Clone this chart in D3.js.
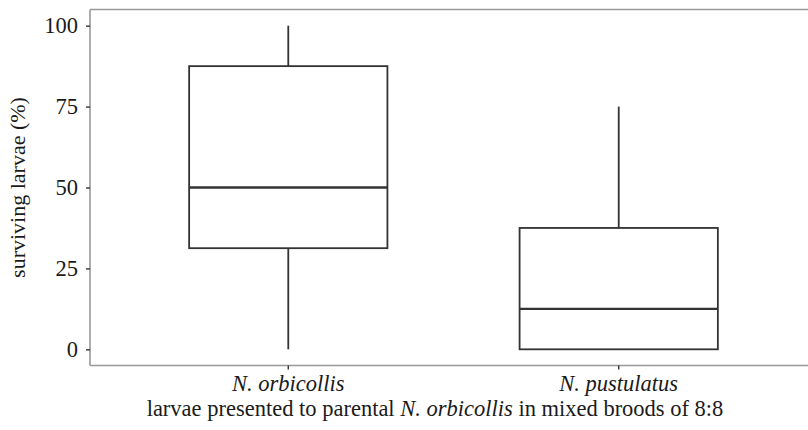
<!DOCTYPE html>
<html><head><meta charset="utf-8">
<script src="https://cdn.jsdelivr.net/npm/d3@7"></script>
<style>body{margin:0;background:#fff}svg{display:block}text{font-family:"Liberation Serif","DejaVu Serif",serif;fill:#1a1a1a}</style>
</head><body><svg id="c" width="808" height="430"></svg>
<script>
const categories = ["N. orbicollis", "N. pustulatus"];
const mins    = [0, 0];
const q1s     = [31.25, 0];
const medians = [50, 12.5];
const q3s     = [87.5, 37.5];
const maxs    = [100, 75];
const yTicks  = [0, 25, 50, 75, 100];

const svg = d3.select("#c");
const L = 90, R = 817, T = 9.5, B = 365.5;
const x = d3.scaleBand().domain(categories).range([L, R]).paddingInner(0.4).paddingOuter(0.3);
const y = d3.scaleLinear().domain([-5, 105]).range([B, T]);

const data = categories.map((c, i) => ({c, min: mins[i], q1: q1s[i], med: medians[i], q3: q3s[i], max: maxs[i]}));
const stroke = "#333";
const g = svg.append("g");
data.forEach(d => {
  const x0 = x(d.c), bw = x.bandwidth(), cx = x0 + bw / 2;
  g.append("line").attr("x1", cx).attr("x2", cx).attr("y1", y(d.q3)).attr("y2", y(d.max)).attr("stroke", stroke).attr("stroke-width", 1.8);
  g.append("line").attr("x1", cx).attr("x2", cx).attr("y1", y(d.q1)).attr("y2", y(d.min)).attr("stroke", stroke).attr("stroke-width", 1.8);
  g.append("rect").attr("x", x0).attr("width", bw).attr("y", y(d.q3)).attr("height", y(d.q1) - y(d.q3))
    .attr("fill", "#fff").attr("stroke", stroke).attr("stroke-width", 1.8);
  g.append("line").attr("x1", x0).attr("x2", x0 + bw).attr("y1", y(d.med)).attr("y2", y(d.med)).attr("stroke", stroke).attr("stroke-width", 2.4);
});

// panel lines
svg.append("line").attr("x1", L).attr("x2", 808).attr("y1", T).attr("y2", T).attr("stroke", "#999").attr("stroke-width", 1.6);

const yAxis = svg.append("g").attr("transform", `translate(${L},0)`)
  .call(d3.axisLeft(y).tickValues(yTicks).tickSize(4).tickPadding(8));
yAxis.select(".domain").attr("stroke", "#999").attr("stroke-width", 1.6).attr("d", `M0,${T}V${B}`);
yAxis.selectAll(".tick line").attr("stroke", "#333").attr("stroke-width", 1.4);
yAxis.selectAll(".tick text").attr("font-size", 22.5).attr("font-family", "Liberation Serif").attr("fill", "#1a1a1a");

const xAxis = svg.append("g").attr("transform", `translate(0,${B})`)
  .call(d3.axisBottom(x).tickSize(4).tickPadding(6));
xAxis.select(".domain").attr("stroke", "#999").attr("stroke-width", 1.6).attr("d", `M${L},0H808`);
xAxis.selectAll(".tick line").attr("stroke", "#333").attr("stroke-width", 1.4);
xAxis.selectAll(".tick text").attr("font-size", 22.5).attr("font-style", "italic").attr("font-family", "Liberation Serif").attr("fill", "#1a1a1a");

const t = svg.append("text").attr("x", 435).attr("y", 416).attr("text-anchor", "middle").attr("font-size", 22.5);
t.append("tspan").text("larvae presented to parental ");
t.append("tspan").attr("font-style", "italic").text("N. orbicollis");
t.append("tspan").text(" in mixed broods of 8:8");

svg.append("text").attr("transform", `translate(25,${(T + B) / 2}) rotate(-90)`).attr("text-anchor", "middle")
  .attr("font-size", 22).text("surviving larvae (%)");
</script></body></html>
